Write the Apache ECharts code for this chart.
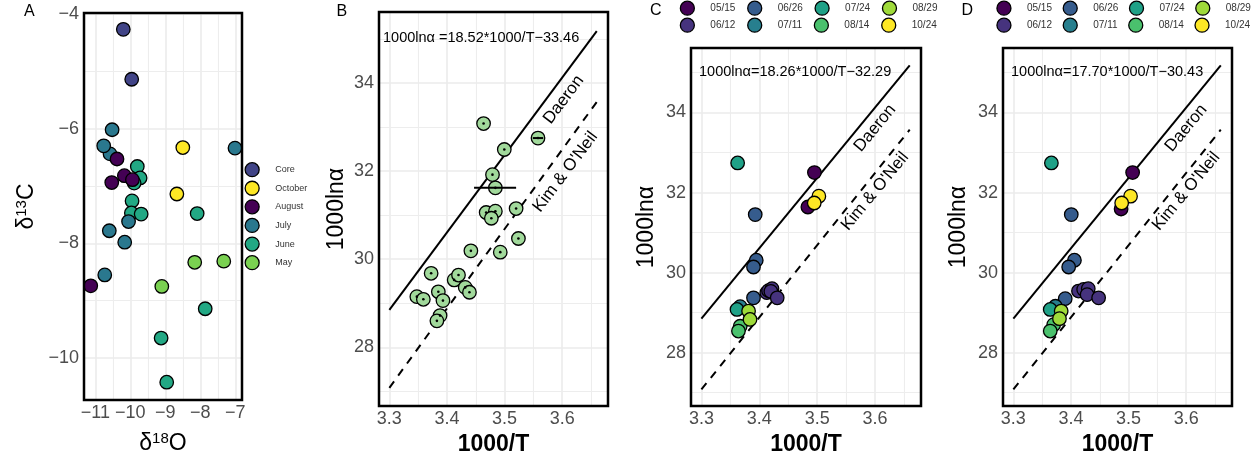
<!DOCTYPE html>
<html><head><meta charset="utf-8">
<script src="https://cdn.jsdelivr.net/npm/echarts@6/dist/echarts.min.js"></script>
<style>html,body{margin:0;padding:0;background:#fff}#c{width:1257px;height:461px}</style>
</head><body><div id="c"></div>
<script>
// ---------- Panel A data (δ18O, δ13C) ----------
const groupsA = ['Core', 'October', 'August', 'July', 'June', 'May'];
const coreA = [[-10.2, -4.27], [-9.96, -5.14]];
const octoberA = [[-8.5, -6.33], [-8.67, -7.14]];
const augustA = [[-10.38, -6.53], [-10.53, -6.94], [-10.17, -6.82], [-9.94, -6.89], [-11.13, -8.74]];
const julyA = [[-10.58, -6.44], [-10.76, -6.30], [-10.52, -6.02], [-10.05, -7.62], [-10.6, -7.78], [-10.16, -7.98], [-10.73, -8.55], [-7.01, -6.34]];
const juneA = [[-9.8, -6.66], [-9.72, -6.86], [-9.89, -6.95], [-9.95, -7.26], [-9.97, -7.47], [-9.69, -7.49], [-8.09, -7.48], [-7.86, -9.14], [-9.12, -9.65], [-8.96, -10.42]];
const mayA = [[-8.16, -8.33], [-7.33, -8.31], [-9.1, -8.75]];

// ---------- Panel B data (1000/T, 1000lnα) ----------
const pointsB = [[3.4635, 33.08], [3.4995, 32.49], [3.558, 32.75], [3.479, 31.92], [3.484, 31.62], [3.468, 31.06], [3.484, 31.09], [3.477, 30.93], [3.52, 31.15], [3.524, 30.47], [3.4415, 30.19], [3.4925, 30.16], [3.3725, 29.68], [3.4125, 29.53], [3.42, 29.64], [3.4317, 29.36], [3.439, 29.25], [3.3477, 29.15], [3.359, 29.09], [3.385, 29.26], [3.393, 29.06], [3.388, 28.72], [3.3825, 28.6]];
// horizontal error bars: [xmin, xmax, y]
const errB = [[3.447, 3.52, 31.62], [3.549, 3.567, 32.75]];

// ---------- Panels C and D data, by sampling date ----------
const dates = ['05/15', '06/12', '06/26', '07/11', '07/24', '08/14', '08/29', '10/24'];
const dataC = {
  '05/15': [[3.4953, 32.50], [3.484, 31.64]],
  '06/12': [[3.413, 29.50], [3.416, 29.55], [3.422, 29.60], [3.42, 29.53], [3.431, 29.37]],
  '06/26': [[3.393, 31.45], [3.3948, 30.31], [3.390, 30.14], [3.39, 29.37]],
  '07/11': [[3.367, 29.15]],
  '07/24': [[3.3626, 32.74], [3.3615, 29.08]],
  '08/14': [[3.367, 28.66], [3.364, 28.54]],
  '08/29': [[3.3815, 29.04], [3.384, 28.83]],
  '10/24': [[3.503, 31.91], [3.495, 31.74]]
};
const dataD = {
  '05/15': [[3.507, 32.50], [3.487, 31.59]],
  '06/12': [[3.413, 29.54], [3.422, 29.58], [3.43, 29.60], [3.428, 29.45], [3.448, 29.37]],
  '06/26': [[3.4005, 31.45], [3.406, 30.31], [3.396, 30.14], [3.39, 29.35]],
  '07/11': [[3.373, 29.16]],
  '07/24': [[3.366, 32.74], [3.364, 29.08]],
  '08/14': [[3.37, 28.70], [3.364, 28.54]],
  '08/29': [[3.383, 29.04], [3.380, 28.85]],
  '10/24': [[3.5034, 31.91], [3.488, 31.74]]
};

// reference lines (endpoints)
const daeron = [[3.3, 28.85], [3.66, 35.18]];
const kimOneil = [[3.3, 27.08], [3.66, 33.57]];

// equations
const eqB = '1000ln\u03b1 =18.52*1000/T\u221233.46';
const eqC = '1000ln\u03b1=18.26*1000/T\u221232.29';
const eqD = '1000ln\u03b1=17.70*1000/T\u221230.43';

// tick values
const xTicksA = [-11, -10, -9, -8, -7], xMinorA = [-10.5, -9.5, -8.5, -7.5];
const yTicksA = [-10, -8, -6, -4], yMinorA = [-9, -7, -5];
const xTicksT = [3.3, 3.4, 3.5, 3.6], xMinorT = [3.35, 3.45, 3.55, 3.65];
const yTicksT = [28, 30, 32, 34], yMinorT = [27, 29, 31, 33, 35];

// ---------- styling ----------
const FONT = 'Liberation Sans, Arial, Helvetica, sans-serif';
const colA = { Core: '#414487', October: '#FDE725', August: '#440154', July: '#2A788E', June: '#22A884', May: '#7AD151' };
const colD = { '05/15': '#440154', '06/12': '#46337E', '06/26': '#365C8D', '07/11': '#277F8E', '07/24': '#1FA187', '08/14': '#4AC16D', '08/29': '#9FDA3A', '10/24': '#FDE725' };
const PT = 13.5, PTB = 1.3;
const minus = v => (v < 0 ? '\u2212' + Math.abs(v) : String(v));

const grids = [
  { left: 84, top: 13, width: 158, height: 387 },
  { left: 379, top: 12, width: 229, height: 395 },
  { left: 691, top: 48, width: 230, height: 359 },
  { left: 1003, top: 48, width: 229, height: 359 }
].map(g => Object.assign(g, { show: true, borderColor: '#000', borderWidth: 2.5, backgroundColor: 'transparent', z: 10 }));

const tickLabel = { fontSize: 18, color: '#4d4d4d', fontFamily: FONT, interval: 0 };
const baseAxis = { type: 'value', axisLine: { show: false }, axisTick: { show: false }, splitLine: { show: false }, nameLocation: 'middle' };
const TX = [3.282, 3.6795], TY = [26.665, 35.612];

const xAxes = [
  Object.assign({}, baseAxis, { gridIndex: 0, min: -11.323, max: -6.809,
    axisLabel: Object.assign({}, tickLabel, { customValues: xTicksA, formatter: minus, margin: 4 }),
    name: '{b|\u03b4}{s|18}{b|O}', nameGap: 31,
    nameTextStyle: { fontFamily: FONT, color: '#000', rich: { b: { fontSize: 23, fontFamily: FONT, lineHeight: 26 }, s: { fontSize: 15, fontFamily: FONT, verticalAlign: 'top', lineHeight: 15 } } } }),
  ...[1, 2, 3].map(i => Object.assign({}, baseAxis, { gridIndex: i, min: TX[0], max: TX[1],
    axisLabel: Object.assign({}, tickLabel, { customValues: xTicksT, formatter: v => v.toFixed(1), margin: 4 }),
    name: '1000/T', nameGap: 23,
    nameTextStyle: { fontSize: 23, fontWeight: 'bold', color: '#000', fontFamily: FONT } }))
];
const yAxes = [
  Object.assign({}, baseAxis, { gridIndex: 0, min: -10.73, max: -3.985,
    axisLabel: Object.assign({}, tickLabel, { customValues: yTicksA, formatter: minus, margin: 5 }),
    name: '{b|\u03b4}{s|13}{b|C}', nameGap: 44,
    nameTextStyle: { fontFamily: FONT, color: '#000', rich: { b: { fontSize: 23, fontFamily: FONT, lineHeight: 26 }, s: { fontSize: 15, fontFamily: FONT, verticalAlign: 'top', lineHeight: 15 } } } }),
  ...[[1, 31], [2, 33], [3, 33]].map(([i, gap]) => Object.assign({}, baseAxis, { gridIndex: i, min: TY[0], max: TY[1],
    axisLabel: Object.assign({}, tickLabel, { customValues: yTicksT, formatter: v => String(v), margin: 5 }),
    name: '1000ln\u03b1', nameGap: gap,
    nameTextStyle: { fontSize: 23, color: '#000', fontFamily: FONT } }))
];

const series = [];
// grid lines via markLine
function gridLines(i, xMaj, xMin, yMaj, yMin) {
  const maj = { color: '#ebebeb', width: 1.6, type: 'solid' };
  const mnr = { color: '#ededed', width: 1.1, type: 'solid' };
  const d = [];
  xMaj.forEach(v => d.push({ xAxis: v, lineStyle: maj }));
  xMin.forEach(v => d.push({ xAxis: v, lineStyle: mnr }));
  yMaj.forEach(v => d.push({ yAxis: v, lineStyle: maj }));
  yMin.forEach(v => d.push({ yAxis: v, lineStyle: mnr }));
  series.push({ type: 'line', xAxisIndex: i, yAxisIndex: i, data: [], silent: true, z: 1,
    markLine: { silent: true, z: 1, symbol: ['none', 'none'], label: { show: false }, emphasis: { disabled: true }, animation: false, data: d } });
}
gridLines(0, xTicksA, xMinorA, yTicksA, yMinorA);
[1, 2, 3].forEach(i => gridLines(i, xTicksT, xMinorT, yTicksT, yMinorT));

// Panel A points (draw order)
const orderA = [['May', mayA], ['June', juneA], ['July', julyA], ['August', augustA], ['October', octoberA], ['Core', coreA]];
orderA.forEach(([name, arr]) => series.push({
  type: 'scatter', name, xAxisIndex: 0, yAxisIndex: 0, data: arr, symbol: 'circle', symbolSize: PT, z: 3,
  itemStyle: { color: colA[name], borderColor: '#000', borderWidth: PTB, opacity: 1 }
}));

// reference lines + labels in panels B, C, D
[1, 2, 3].forEach(i => {
  series.push({ type: 'line', name: 'Daeron', xAxisIndex: i, yAxisIndex: i, data: daeron, symbol: 'none', z: 2,
    lineStyle: { color: '#000', width: 2 } });
  series.push({ type: 'line', name: "Kim & O'Neil", xAxisIndex: i, yAxisIndex: i, data: kimOneil, symbol: 'none', z: 2,
    lineStyle: { color: '#000', width: 2, type: [8, 7] } });
  const rot = i === 1 ? 53 : 50.5;
  const lblPos = i === 1 ? [[3.6026, 33.62], [3.6056, 31.98]] : [[3.6, 33.61], [3.6, 32.03]];
  ['Daeron', "Kim & O'Neil"].forEach((t, k) => series.push({
    type: 'scatter', xAxisIndex: i, yAxisIndex: i, data: [lblPos[k]], symbolSize: 0.1, silent: true, z: 5,
    itemStyle: { color: '#000', opacity: 1 },
    label: { show: true, position: 'inside', formatter: t, rotate: rot, fontSize: 17, color: '#000', opacity: 1,
      textBorderWidth: 0, fontWeight: 'normal', fontFamily: FONT }
  }));
});

// Panel B points, center dots, error bars
series.push({ type: 'scatter', name: 'B', xAxisIndex: 1, yAxisIndex: 1, data: pointsB, symbolSize: PT, z: 3,
  itemStyle: { color: '#a1d99b', borderColor: '#000', borderWidth: PTB, opacity: 1 } });
series.push({ type: 'scatter', xAxisIndex: 1, yAxisIndex: 1, data: pointsB, symbolSize: 2.6, z: 4, silent: true,
  itemStyle: { color: '#000', opacity: 1 } });
errB.forEach(([x0, x1, y]) => series.push({ type: 'line', xAxisIndex: 1, yAxisIndex: 1, data: [[x0, y], [x1, y]],
  symbol: 'none', z: 4, lineStyle: { color: '#000', width: 2 } }));

// Panels C and D points
[[2, dataC], [3, dataD]].forEach(([i, dat]) => dates.forEach(dt => series.push({
  type: 'scatter', name: dt, xAxisIndex: i, yAxisIndex: i, data: dat[dt], symbolSize: PT, z: 3,
  itemStyle: { color: colD[dt], borderColor: '#000', borderWidth: PTB, opacity: 1 }
})));

// legends
const legText = { fontSize: 10, color: '#333', fontFamily: FONT, padding: [0, 0, 0, 11] };
const legBase = { icon: 'circle', itemWidth: 14, itemHeight: 14, selectedMode: false, padding: 0,
  itemStyle: { borderColor: '#000', borderWidth: PTB } };
const row1 = ['05/15', '06/26', '07/24', '08/29'], row2 = ['06/12', '07/11', '08/14', '10/24'];
const legends = [
  Object.assign({}, legBase, { orient: 'vertical', left: 244.5, top: 162, itemGap: 3.3, data: groupsA,
    textStyle: Object.assign({}, legText, { fontSize: 9 }) }),
  Object.assign({}, legBase, { orient: 'horizontal', left: 679.7, top: 0.5, itemGap: 11.7, data: row1, textStyle: legText }),
  Object.assign({}, legBase, { orient: 'horizontal', left: 679.7, top: 17.5, itemGap: 11.7, data: row2, textStyle: legText }),
  Object.assign({}, legBase, { orient: 'horizontal', left: 996.3, top: 0.5, itemGap: 10.6, data: row1, textStyle: legText }),
  Object.assign({}, legBase, { orient: 'horizontal', left: 996.3, top: 17.5, itemGap: 10.6, data: row2, textStyle: legText })
];

// titles: panel letters and equations
const letter = (t, l, tp) => ({ text: t, left: l, top: tp, padding: 0, textStyle: { fontSize: 16, fontWeight: 'normal', color: '#000', fontFamily: FONT } });
const eq = (t, l, tp) => ({ text: t, left: l, top: tp, padding: 0, textStyle: { fontSize: 14.5, fontWeight: 'normal', color: '#000', fontFamily: FONT } });
const titles = [letter('A', 24, 4), letter('B', 336.5, 4), letter('C', 650, 3), letter('D', 961.5, 3),
  eq(eqB, 383, 30), eq(eqC, 699, 64.5), eq(eqD, 1011, 64.5)];

const chart = echarts.init(document.getElementById('c'), null, { renderer: 'canvas' });
chart.setOption({
  animation: false,
  backgroundColor: '#fff',
  title: titles,
  legend: legends,
  grid: grids,
  xAxis: xAxes,
  yAxis: yAxes,
  series
});
</script></body></html>
